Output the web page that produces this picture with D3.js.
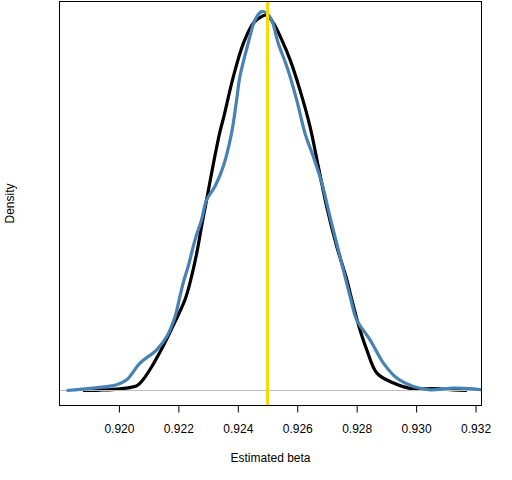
<!DOCTYPE html>
<html>
<head>
<meta charset="utf-8">
<script src="https://cdn.jsdelivr.net/npm/d3@7"></script>
<style>
  body { margin: 0; background: #fff; }
  text { font-family: "Liberation Sans", Arial, sans-serif; fill: #000; }
</style>
</head>
<body>
<svg id="chart"></svg>
<script>
const width = 512, height = 480;
const boxLeft = 59.5, boxRight = 481.5, boxTop = 1.5, boxBottom = 405.5;

// density estimates
const blackX = [0.91879, 0.91936, 0.92003, 0.92060, 0.92081, 0.92114, 0.92148, 0.92181, 0.92222, 0.92239,
    0.92262, 0.92278, 0.92295, 0.92316, 0.92339, 0.92353, 0.92385, 0.92419, 0.92452, 0.92480,
    0.92497, 0.92520, 0.92548, 0.92576, 0.92609, 0.92643, 0.92671, 0.92699, 0.92733, 0.92767,
    0.92778, 0.92811, 0.92834, 0.92868, 0.92924, 0.92991, 0.93058, 0.93126, 0.93171];
const blackY = [0, 0.3, 1.2, 3.3, 7.5, 18.0, 30.8, 44.8, 63.5, 75.4,
    96.4, 114.8, 133.5, 156.8, 180.4, 191.8, 219.8, 243.2, 257.2, 261.8,
    263.0, 257.2, 245.5, 231.5, 210.5, 184.8, 156.8, 128.8, 100.8, 77.5,
    68.2, 42.5, 28.5, 12.2, 5.2, 1.0, 1.4, 0.5, 0];

const blueX = [0.91824, 0.91912, 0.91992, 0.92026, 0.92071, 0.92127, 0.92161, 0.92189, 0.92205, 0.92219,
    0.92233, 0.92256, 0.92278, 0.92295, 0.92323, 0.92351, 0.92379, 0.92396, 0.92407, 0.92435,
    0.92458, 0.92480, 0.92497, 0.92514, 0.92536, 0.92565, 0.92598, 0.92626, 0.92654, 0.92683,
    0.92710, 0.92744, 0.92778, 0.92800, 0.92845, 0.92890, 0.92935, 0.92991, 0.93047, 0.93126,
    0.93193, 0.93221];
const blueY = [0, 1.7, 4.0, 7.5, 19.2, 28.5, 37.8, 51.8, 65.8, 77.5,
    86.8, 105.5, 119.5, 133.5, 142.8, 156.8, 180.2, 203.5, 219.8, 243.2,
    259.5, 265.3, 264.2, 259.5, 243.2, 226.8, 203.5, 180.2, 163.8, 145.2,
    121.8, 93.8, 65.8, 49.5, 35.5, 19.2, 8.7, 2.8, 0.5, 1.7,
    1.2, 0.5];

const trueBeta = 0.925;
const xTicks = [0.920, 0.922, 0.924, 0.926, 0.928, 0.930, 0.932];

const svg = d3.select('#chart')
    .attr('width', width)
    .attr('height', height);

const x = d3.scaleLinear().domain([0.918, 0.9322]).range([boxLeft, boxRight]);
const y = d3.scaleLinear().domain([-10.5, 272.4]).range([boxBottom, boxTop]);

svg.append('defs').append('clipPath')
    .attr('id', 'plotClip')
    .append('rect')
    .attr('x', boxLeft)
    .attr('y', boxTop)
    .attr('width', boxRight - boxLeft)
    .attr('height', boxBottom - boxTop);

const plot = svg.append('g').attr('clip-path', 'url(#plotClip)');

const line = d3.line()
    .x(d => x(d[0]))
    .y(d => y(d[1]))
    .curve(d3.curveCatmullRom);

plot.append('path')
    .datum(d3.zip(blackX, blackY))
    .attr('d', line)
    .attr('fill', 'none')
    .attr('stroke', '#000')
    .attr('stroke-width', 3.2)
    .attr('stroke-linejoin', 'round');

// zero line
plot.append('line')
    .attr('x1', boxLeft)
    .attr('x2', boxRight)
    .attr('y1', y(0))
    .attr('y2', y(0))
    .attr('stroke', '#bebebe')
    .attr('stroke-width', 1);

plot.append('path')
    .datum(d3.zip(blueX, blueY))
    .attr('d', line)
    .attr('fill', 'none')
    .attr('stroke', '#4682b4')
    .attr('stroke-width', 3.2)
    .attr('stroke-linejoin', 'round');

plot.append('line')
    .attr('x1', x(trueBeta))
    .attr('x2', x(trueBeta))
    .attr('y1', boxTop)
    .attr('y2', boxBottom)
    .attr('stroke', '#ffd700')
    .attr('stroke-width', 3);

// box
svg.append('rect')
    .attr('x', boxLeft)
    .attr('y', boxTop)
    .attr('width', boxRight - boxLeft)
    .attr('height', boxBottom - boxTop)
    .attr('fill', 'none')
    .attr('stroke', '#000')
    .attr('stroke-width', 1);

const xAxis = svg.append('g')
    .attr('transform', `translate(0,${boxBottom})`)
    .call(d3.axisBottom(x)
        .tickValues(xTicks)
        .tickFormat(d3.format('.3f'))
        .tickSizeOuter(0)
        .tickSize(7)
        .tickPadding(12));
xAxis.select('.domain').remove();
xAxis.selectAll('.tick line').attr('stroke', '#000');
xAxis.selectAll('.tick text')
    .style('font-family', '"Liberation Sans", Arial, sans-serif')
    .style('font-size', '12px')
    .attr('fill', '#000');

svg.append('text')
    .attr('x', (boxLeft + boxRight) / 2)
    .attr('y', 462)
    .attr('text-anchor', 'middle')
    .style('font-size', '12px')
    .text('Estimated beta');

svg.append('text')
    .attr('transform', `translate(13.5,${(boxTop + boxBottom) / 2}) rotate(-90)`)
    .attr('text-anchor', 'middle')
    .style('font-size', '12px')
    .text('Density');
</script>
</body>
</html>
